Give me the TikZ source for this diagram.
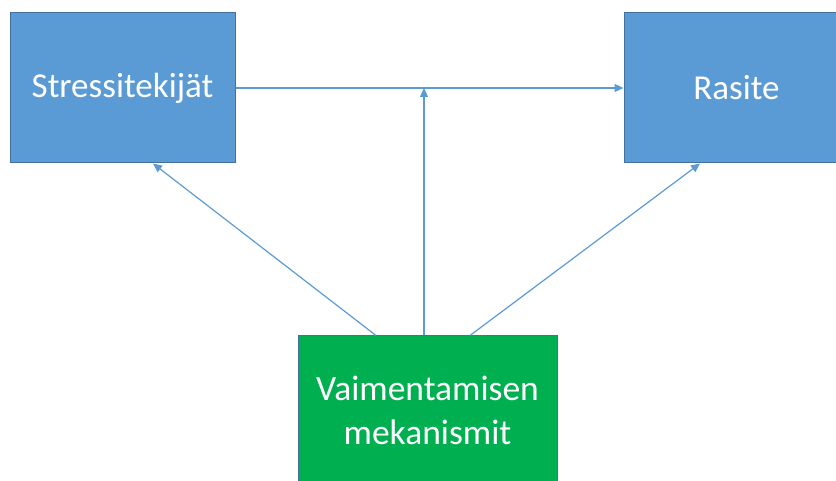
\documentclass[tikz,border=0pt]{standalone}
\usepackage{fontspec}
\setmainfont{Carlito}
\usetikzlibrary{arrows.meta}
\definecolor{boxblue}{HTML}{5B9BD5}
\definecolor{boxblueedge}{HTML}{41719C}
\definecolor{boxgreen}{HTML}{00B050}
\definecolor{linkblue}{HTML}{5B9BD5}
\begin{document}
\begin{tikzpicture}[x=1pt,y=1pt,
  bluebox/.style={rectangle, fill=boxblue, draw=boxblueedge, line width=1pt,
    minimum width=225pt, minimum height=150pt, inner sep=0pt,
    text=white, font=\fontsize{35}{44}\selectfont},
  greenbox/.style={rectangle, fill=boxgreen, draw=boxblueedge, line width=1pt,
    minimum width=259pt, minimum height=148pt, inner sep=0pt, align=center,
    text=white, font=\fontsize{35.5}{44}\selectfont},
  link/.style={draw=linkblue, line width=1.2pt,
    -{Triangle[length=9pt,width=8pt]}}]
\useasboundingbox (0,0) rectangle (836,481);
\begin{scope}
\clip (0,0) rectangle (836,481);
\node[bluebox] (stress) at (122.5,393) {Stressitekijät};
\node[bluebox] (rasite) at (736.5,393) {Rasite};
\node[greenbox] (vaim) at (427.5,71) {Vaimentamisen\\mekanismit};
\end{scope}
% the upward link meets the horizontal link here
\coordinate (mid) at ([xshift=-3.5pt]vaim.north |- stress.east);
\draw[link] (stress.east) -- (rasite.west);
\draw[link] (vaim.north -| mid) -- (mid);
\draw[link] ([xshift=-51.5pt]vaim.north) -- ([xshift=30.5pt]stress.south);
\draw[link] ([xshift=42.5pt]vaim.north) -- ([xshift=-36.5pt]rasite.south);
\end{tikzpicture}
\end{document}
